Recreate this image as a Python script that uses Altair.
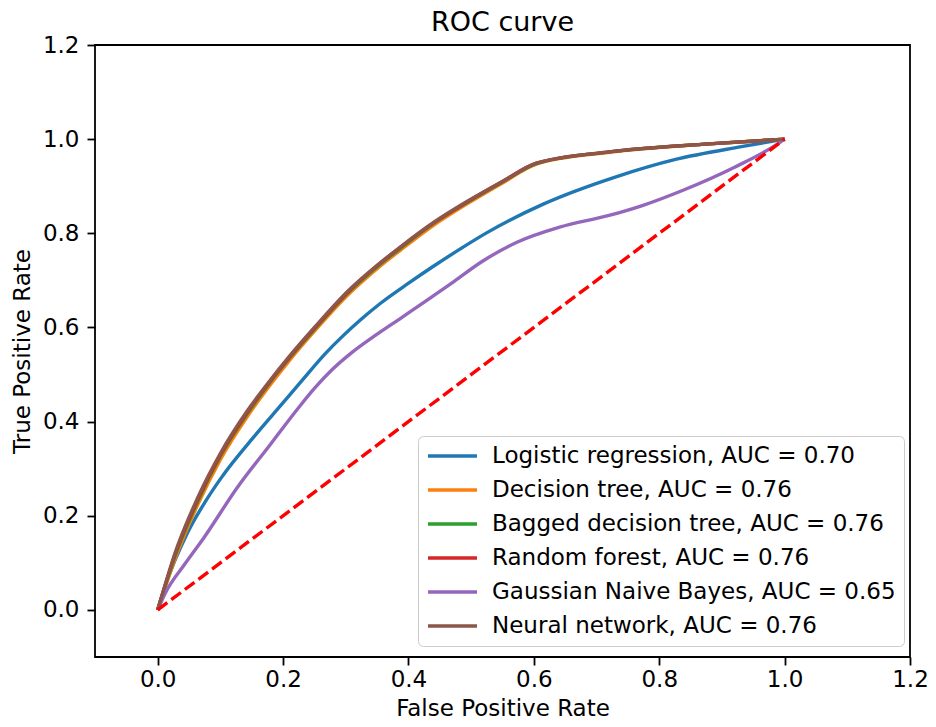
import altair as alt
import pandas as pd

names = [
    "Logistic regression, AUC = 0.70",
    "Decision tree, AUC = 0.76",
    "Bagged decision tree, AUC = 0.76",
    "Random forest, AUC = 0.76",
    "Gaussian Naive Bayes, AUC = 0.65",
    "Neural network, AUC = 0.76",
]
colors = ["#1f77b4", "#ff7f0e", "#2ca02c", "#d62728", "#9467bd", "#8c564b"]

# Logistic regression
lr_fpr = [0, 0.011, 0.048, 0.075, 0.101, 0.153, 0.198, 0.230, 0.267, 0.293, 0.325, 0.356, 0.399, 0.441, 0.484, 0.526, 0.615, 0.731, 0.826, 0.931, 1.0]
lr_tpr = [0, 0.047, 0.165, 0.228, 0.280, 0.367, 0.437, 0.487, 0.544, 0.579, 0.618, 0.652, 0.693, 0.731, 0.768, 0.802, 0.862, 0.920, 0.957, 0.984, 1.0]

# tree-based models and neural network share the same fpr grid
top_fpr = [0, 0.01, 0.027, 0.064, 0.101, 0.143, 0.18, 0.209, 0.25, 0.304, 0.35, 0.388, 0.44, 0.494, 0.55, 0.604, 0.72, 0.879, 1.0]
dt_tpr = [0, 0.040, 0.106, 0.224, 0.322, 0.411, 0.479, 0.528, 0.592, 0.670, 0.725, 0.765, 0.817, 0.863, 0.907, 0.947, 0.972, 0.990, 1.0]
bag_tpr = [0, 0.043, 0.112, 0.231, 0.329, 0.417, 0.485, 0.533, 0.596, 0.674, 0.729, 0.769, 0.821, 0.866, 0.909, 0.948, 0.973, 0.990, 1.0]
rf_tpr = [0, 0.044, 0.115, 0.235, 0.332, 0.420, 0.487, 0.535, 0.598, 0.676, 0.731, 0.771, 0.822, 0.867, 0.910, 0.949, 0.973, 0.990, 1.0]
nn_tpr = [0, 0.045, 0.118, 0.239, 0.335, 0.423, 0.489, 0.537, 0.600, 0.678, 0.732, 0.772, 0.823, 0.868, 0.910, 0.949, 0.973, 0.990, 1.0]

# Gaussian Naive Bayes
gnb_fpr = [0, 0.011, 0.043, 0.074, 0.127, 0.18, 0.225, 0.251, 0.278, 0.309, 0.346, 0.388, 0.431, 0.473, 0.515, 0.573, 0.641, 0.72, 0.773, 0.837, 0.921, 0.989, 1.0]
gnb_tpr = [0, 0.033, 0.097, 0.154, 0.26, 0.352, 0.43, 0.472, 0.510, 0.546, 0.582, 0.620, 0.659, 0.698, 0.738, 0.781, 0.813, 0.838, 0.859, 0.891, 0.941, 0.99, 1.0]

diag_x = [0, 1]
diag_y = [0, 1]

ticks = [0.0, 0.2, 0.4, 0.6, 0.8, 1.0, 1.2]

series = [
    (names[0], lr_fpr, lr_tpr),
    (names[1], top_fpr, dt_tpr),
    (names[2], top_fpr, bag_tpr),
    (names[3], top_fpr, rf_tpr),
    (names[4], gnb_fpr, gnb_tpr),
    (names[5], top_fpr, nn_tpr),
]

FONT = "DejaVu Sans"

xscale = alt.Scale(domain=[-0.1, 1.2], nice=False, zero=False)
yscale = alt.Scale(domain=[-0.1, 1.2], nice=False, zero=False)

axis_common = dict(
    values=ticks, format=".1f", grid=False, domain=False,
    tickSize=8, tickWidth=1.8, tickColor="black",
    labelFont=FONT, labelFontSize=23, labelColor="black",
    titleFont=FONT, titleFontSize=23, titleFontWeight="normal", titleColor="black",
)
xaxis = alt.Axis(title="False Positive Rate", labelPadding=3, titlePadding=6, labelFlush=False, **axis_common)
yaxis = alt.Axis(title="True Positive Rate", labelPadding=8, titlePadding=8, **axis_common)

legend = alt.Legend(
    title=None, orient="none", legendX=323, legendY=391,
    symbolType="M-1,0H3.9", symbolSize=400, symbolStrokeWidth=3.4,
    labelFont=FONT, labelFontSize=23, labelColor="black", labelLimit=0,
    labelOffset=42, rowPadding=10, padding=8,
    fillColor="white", strokeColor="#cccccc", cornerRadius=5,
)

layers = []
for name, fx, fy in series:
    df = pd.DataFrame({"model": name, "fpr": fx, "tpr": fy})
    layers.append(
        alt.Chart(df).mark_line(strokeWidth=3.4, interpolate="monotone").encode(
            x=alt.X("fpr:Q", scale=xscale, axis=xaxis),
            y=alt.Y("tpr:Q", scale=yscale, axis=yaxis),
            color=alt.Color("model:N", scale=alt.Scale(domain=names, range=colors), legend=legend),
            order=alt.Order("fpr:Q"),
        )
    )

diag = alt.Chart(pd.DataFrame({"fpr": diag_x, "tpr": diag_y})).mark_line(
    color="#ff0000", strokeDash=[12, 5], strokeWidth=3.4
).encode(x=alt.X("fpr:Q", scale=xscale), y=alt.Y("tpr:Q", scale=yscale))
layers.append(diag)

chart = alt.layer(*layers).properties(
    width=815, height=612,
    title=alt.TitleParams("ROC curve", font=FONT, fontSize=27, fontWeight="normal", color="black",
                          anchor="middle", offset=-3),
    autosize=alt.AutoSizeParams(type="none"),
    padding={"left": 87, "top": 37, "right": 18, "bottom": 62},
).configure(background="white").configure_view(stroke="black", strokeWidth=1.8)

chart.save("out.html", embed_options={"renderer": "svg", "actions": False})
